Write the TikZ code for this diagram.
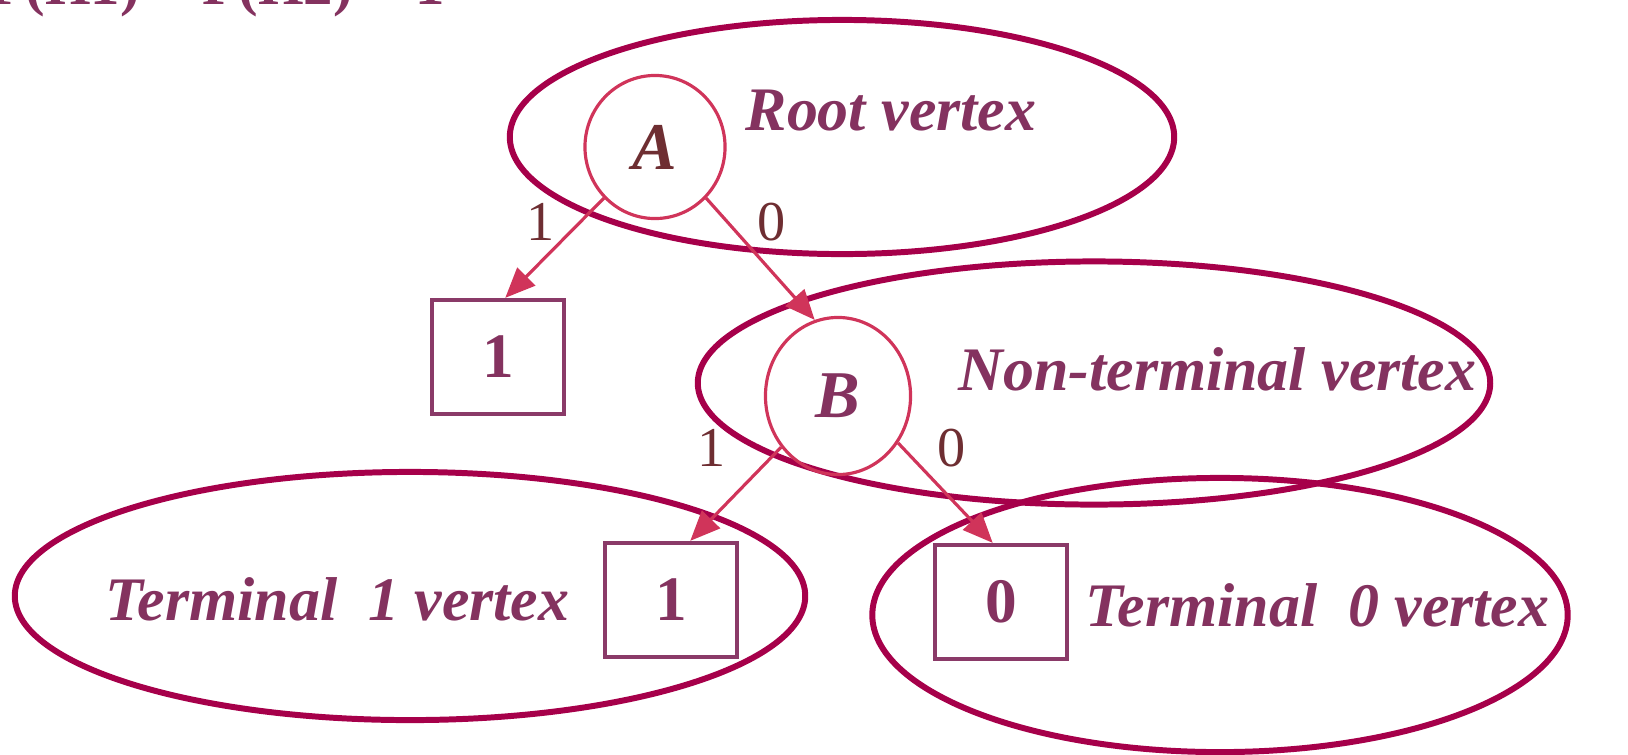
\documentclass[tikz,border=0pt]{standalone}
\usepackage{fontspec}
\setmainfont{Liberation Serif}
\usetikzlibrary{shapes.geometric,arrows.meta}
\definecolor{ringc}{RGB}{166,0,74}
\definecolor{nodec}{RGB}{208,52,90}
\definecolor{labc}{RGB}{132,50,95}
\definecolor{edgec}{RGB}{110,46,50}
\definecolor{boxc}{RGB}{138,58,104}
\begin{document}
\begin{tikzpicture}[x=0.01cm,y=-0.01cm,
 grp/.style={draw=ringc,line width=1.7pt,ellipse,inner sep=0pt},
 vtx/.style={draw=nodec,line width=0.9pt,ellipse,inner sep=0pt,font=\fontsize{19}{22}\selectfont\bfseries\itshape},
 term/.style={draw=boxc,line width=1.2pt,rectangle,minimum width=1.32cm,minimum height=1.14cm,inner sep=0pt,text=labc,font=\fontsize{18}{21}\selectfont\bfseries},
 lab/.style={text=labc,font=\fontsize{17.6}{20}\selectfont\bfseries\itshape,inner sep=0pt,anchor=base west},
 elab/.style={text=edgec,font=\fontsize{16}{19}\selectfont,inner sep=0pt},
 arr/.style={draw=nodec,line width=0.9pt,-{Triangle[length=0.3cm,width=0.25cm]}}]
\useasboundingbox (0,0) rectangle (1628,754);
% header (cut off at the top)
\node[text=labc,font=\fontsize{16.7}{19}\selectfont\bfseries,anchor=base west,inner sep=0pt] (hdr) at (-11,4) {P(H1) = P(H2) = 1};
% grouping ellipses
\node[grp,minimum width=6.64cm,minimum height=2.34cm] (groot) at (842,137) {};
\node[grp,minimum width=7.92cm,minimum height=2.43cm] (gmid) at (1094,383) {};
\node[grp,minimum width=7.90cm,minimum height=2.48cm] (gone) at (410,596) {};
\node[grp,minimum width=6.95cm,minimum height=2.74cm] (gzero) at (1220,615) {};
% vertices
\node[vtx,minimum width=1.40cm,minimum height=1.43cm,text=edgec] (A) at (655,147) {A};
\node[vtx,minimum width=1.45cm,minimum height=1.57cm,text=labc] (B) at (838,396) {B};
\node[term] (t1a) at (498,357) {1};
\node[term] (t1b) at (671,600) {1};
\node[term] (t0) at (1001,602) {0};
% labels
\node[lab] (lroot) at (745,130) {Root vertex};
\node[lab] (lmid) at (958,390) {Non-terminal vertex};
\node[lab] (lone) at (105,620) {Terminal\ \ 1 vertex};
\node[lab] (lzero) at (1085,626) {Terminal\ \ 0 vertex};
% edges
\draw[arr] (A.225) -- (t1a.83);
\draw[arr] (A.-45) -- (B.107);
\draw[arr] (B.222) -- (t1b.72);
\draw[arr] (B.-38) -- (t0.98);
\node[elab] (e1) at (541,222) {1};
\node[elab] (e2) at (772,222) {0};
\node[elab] (e3) at (712,448) {1};
\node[elab] (e4) at (952,448) {0};
\end{tikzpicture}
\end{document}
